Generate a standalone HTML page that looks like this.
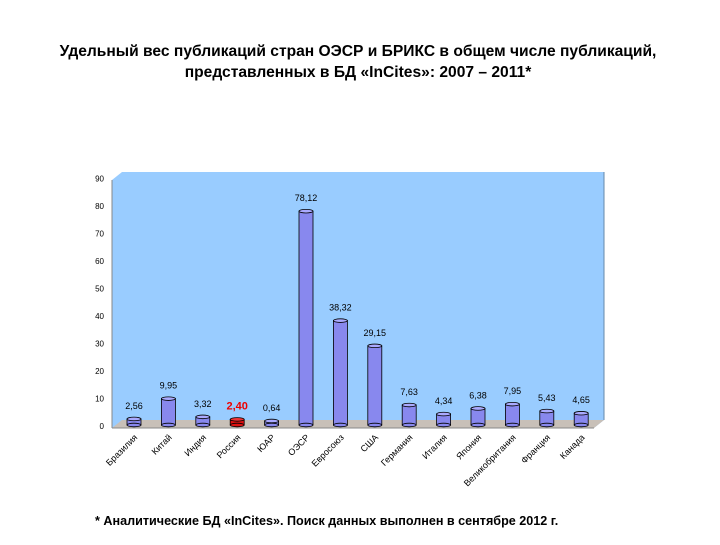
<!DOCTYPE html>
<html><head><meta charset="utf-8"><style>
body{margin:0;background:#fff;width:720px;height:540px;overflow:hidden;font-family:"Liberation Sans",sans-serif}
</style></head><body>
<svg width="720" height="540" xmlns="http://www.w3.org/2000/svg" font-family="Liberation Sans, sans-serif">
<text x="358" y="56" text-anchor="middle" font-size="15.6" font-weight="bold">Удельный вес публикаций стран ОЭСР и БРИКС в общем числе публикаций,</text>
<text x="358" y="77" text-anchor="middle" font-size="15.6" font-weight="bold">представленных в БД «InCites»: 2007 – 2011*</text>
<polygon points="112,180 122,172 604,172 604,420 594,428 112,428" fill="#99ccff"/>
<polygon points="112,428 122,420 604,420 594,428" fill="#c8c0b8"/>
<line x1="112" y1="180" x2="112" y2="428" stroke="#888" stroke-width="1"/>
<line x1="112" y1="428" x2="594" y2="428" stroke="#888"/>
<line x1="604" y1="172" x2="604" y2="420" stroke="#6688aa"/>
<g id="axis" font-size="8" fill="#000"></g>
<g id="bars"></g>
<g id="labels" font-size="9"></g>
<text x="95" y="525" font-size="12.6" font-weight="bold">*  Аналитические БД «InCites». Поиск данных выполнен в сентябре 2012 г.</text>
</svg>
<script>
const categories=["Бразилия","Китай","Индия","Россия","ЮАР","ОЭСР","Евросоюз","США","Германия","Италия","Япония","Великобритания","Франция","Канада"];
const values=[2.56,9.95,3.32,2.40,0.64,78.12,38.32,29.15,7.63,4.34,6.38,7.95,5.43,4.65];
const valueLabels=["2,56","9,95","3,32","2,40","0,64","78,12","38,32","29,15","7,63","4,34","6,38","7,95","5,43","4,65"];
const yTicks=[0,10,20,30,40,50,60,70,80,90];
const NS="http://www.w3.org/2000/svg";
const y=v=>426-v*2.75;
const x=i=>134+i*34.4;
const ax=document.getElementById('axis'),bg=document.getElementById('bars'),lg=document.getElementById('labels');
function mk(tag,attrs,parent){const e=document.createElementNS(NS,tag);for(const k in attrs)e.setAttribute(k,attrs[k]);parent.appendChild(e);return e;}
yTicks.forEach(t=>{const e=mk('text',{x:104,y:y(t)+3,'text-anchor':'end'},ax);e.textContent=t;

});
values.forEach((v,i)=>{
 const cx=x(i),w=14,top=Math.min(y(v),421),bot=425;
 const red=categories[i]==="Россия";
 const fill=red?'#dd1111':'#8888ee',cap=red?'#ee3333':'#aaaaff';
 const g=mk('g',{},bg);
 
 
 mk('rect',{x:cx-w/2,y:top,width:w,height:Math.max(bot-top,1),fill:fill,stroke:'#000','stroke-width':0.8},g);
 mk('ellipse',{cx:cx,cy:bot,rx:w/2,ry:1.8,fill:fill,stroke:'#000','stroke-width':0.8},g);
 mk('ellipse',{cx:cx,cy:top,rx:w/2,ry:1.8,fill:cap,stroke:'#000','stroke-width':0.8},g);
 const t=mk('text',{x:cx,y:top-10,'text-anchor':'middle',fill:red?'#ee0000':'#000','font-weight':red?'bold':'normal','font-size':red?11:9},lg);
 t.textContent=valueLabels[i];
 
 
 const c=mk('text',{x:cx+4,y:438,'text-anchor':'end',transform:`rotate(-45 ${cx+4} 438)`},lg);
 c.textContent=categories[i];
 
 
});
</script>
</body></html>
